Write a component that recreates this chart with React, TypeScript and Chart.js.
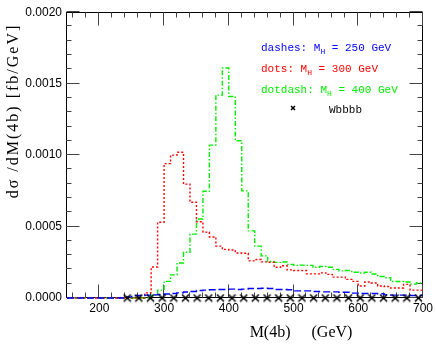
import React, { useEffect, useRef } from "react";
import { Chart, registerables } from "chart.js";

Chart.register(...registerables);

// ---- data ----
const BIN_LO = [
  150, 160, 170, 180, 190, 200, 210, 220, 230, 240,
  250, 260, 270, 280, 290, 300, 310, 320, 330, 340,
  350, 360, 370, 380, 390, 400, 410, 420, 430, 440,
  450, 460, 470, 480, 490, 500, 510, 520, 530, 540,
  550, 560, 570, 580, 590, 600, 610, 620, 630, 640,
  650, 660, 670, 680, 690,
];
const BIN_END = 700;

// M_H = 250 GeV (dashes)
const H250 = [
  0, 0, 0, 0, 0, 0, 0, 0, 0,
  0.000008, 0.000016, 0.000018, 0.00002, 0.000022, 0.000024,
  0.000028, 0.000032, 0.000036, 0.000042, 0.000046, 0.000052, 0.000055, 0.000058, 0.00006, 0.00006,
  0.000062, 0.00006, 0.000062, 0.000066, 0.000066, 0.000068, 0.000066, 0.00006, 0.00006, 0.000058,
  0.00005, 0.00005, 0.00005, 0.000046, 0.000043, 0.000043, 0.000043, 0.00004, 0.00004, 0.000034,
  0.000032, 0.000032, 0.000032, 0.00003, 0.000022, 0.00002, 0.00002, 0.00002, 0.000018, 0.000018,
];

// M_H = 300 GeV (dots)
const H300 = [
  0, 0, 0, 0, 0, 0, 0, 0, 0, 0, 0, 0,
  0.000036, 0.000217, 0.00053,
  0.00094, 0.001, 0.00102, 0.000797, 0.00067, 0.000534, 0.000461, 0.000427, 0.000363, 0.00034,
  0.000336, 0.000315, 0.000313, 0.00026, 0.000269, 0.000253, 0.00025, 0.000215, 0.000226, 0.000197,
  0.000192, 0.000192, 0.000169, 0.000169, 0.000176, 0.000165, 0.000146, 0.000146, 0.00013, 0.000116,
  0.000084, 0.000112, 0.000105, 0.000084, 0.00008, 0.00007, 0.00007, 0.000095, 0.000055, 0.000055,
];

// M_H = 400 GeV (dotdash)
const H400 = [
  0, 0, 0, 0, 0, 0, 0, 0, 0, 0, 0, 0, 0,
  0.00002, 0.000055,
  0.000116, 0.000162, 0.000245, 0.00032, 0.000447, 0.000553, 0.000747, 0.00107, 0.00142, 0.00161,
  0.00141, 0.0011, 0.00075, 0.00047, 0.000363, 0.000295, 0.000256, 0.000249, 0.000252, 0.000235,
  0.000228, 0.00023, 0.000228, 0.000215, 0.00022, 0.000215, 0.0002, 0.00019, 0.000192, 0.00018,
  0.000175, 0.00018, 0.000168, 0.00015, 0.000142, 0.000115, 0.000115, 0.000112, 0.000097, 0.000105,
];

// Wbbbb background (markers)
const WBBBB_X = [
  243, 261, 279, 297, 315, 333, 351, 369, 387, 405, 423, 441, 459,
  477, 495, 513, 531, 549, 567, 585, 603, 621, 639, 657, 675, 693,
];
const WBBBB_Y = [
  0, 0, 0, 0, 0, 0, 0, 0, 0, 0, 0, 0, 0,
  0, 0, 0, 0, 0, 0, 0, 0, 0, 0, 0, 0, 0,
];

const X_MAJOR = [200, 300, 400, 500, 600, 700];
const X_MINOR = [
  160, 180, 220, 240, 260, 280, 320, 340, 360, 380, 420, 440, 460, 480,
  520, 540, 560, 580, 620, 640, 660, 680,
];
const Y_MAJOR = [0, 0.0005, 0.001, 0.0015, 0.002];
const Y_MINOR = [
  0.0001, 0.0002, 0.0003, 0.0004, 0.0006, 0.0007, 0.0008, 0.0009,
  0.0011, 0.0012, 0.0013, 0.0014, 0.0016, 0.0017, 0.0018, 0.0019,
];

const X_TITLE = "M(4b) (GeV)";
const Y_TITLE = "dσ /dM(4b) [fb/GeV]";

const LEGEND = [
  { pre: "dashes: M", sub: "H", post: " = 250 GeV", color: "#0000ff" },
  { pre: "dots: M", sub: "H", post: " = 300 GeV", color: "#ff0000" },
  { pre: "dotdash: M", sub: "H", post: " = 400 GeV", color: "#00ee00" },
];
const BKG_LABEL = "Wbbbb";

function hist(vals: number[]) {
  const pts = BIN_LO.map((x, i) => ({ x, y: vals[i] }));
  pts.push({ x: BIN_END, y: vals[vals.length - 1] });
  return pts;
}

function makeMarker(size: number) {
  const c = document.createElement("canvas");
  c.width = size;
  c.height = size;
  const g = c.getContext("2d")!;
  g.strokeStyle = "#000";
  g.lineWidth = 1.5;
  g.beginPath();
  g.moveTo(1, 1);
  g.lineTo(size - 1, size - 1);
  g.moveTo(size - 1, 1);
  g.lineTo(1, size - 1);
  g.stroke();
  g.fillStyle = "#000";
  const s = Math.max(2, Math.round(size / 3));
  g.fillRect((size - s) / 2, (size - s) / 2, s, s);
  return c;
}

export default function App() {
  const ref = useRef<HTMLCanvasElement | null>(null);

  useEffect(() => {
    document.body.style.margin = "0";
    const canvas = ref.current!;
    const marker = makeMarker(9);
    const smallMarker = makeMarker(6);

    const decor = {
      id: "decor",
      beforeDatasetsDraw(chart: any) {
        const { ctx, chartArea: a, scales } = chart;
        const xs = scales.x;
        const ys = scales.y;
        ctx.save();
        ctx.strokeStyle = "#000";
        ctx.lineWidth = 1;
        const L = Math.round(a.left) - 0.5;
        const R = Math.round(a.right) - 0.5;
        const T = Math.round(a.top) + 0.5;
        const B = Math.round(a.bottom) - 0.5;
        ctx.strokeRect(L, T, R - L, B - T);
        ctx.strokeStyle = "#444";
        ctx.beginPath();
        const xt = (v: number, len: number) => {
          const p = Math.round(xs.getPixelForValue(v)) - 0.5;
          ctx.moveTo(p, B);
          ctx.lineTo(p, B - len);
          ctx.moveTo(p, T);
          ctx.lineTo(p, T + len);
        };
        const yt = (v: number, len: number) => {
          const p = Math.round(ys.getPixelForValue(v)) - 0.5;
          ctx.moveTo(L, p);
          ctx.lineTo(L + len, p);
          ctx.moveTo(R, p);
          ctx.lineTo(R - len, p);
        };
        X_MAJOR.forEach((v) => xt(v, 13));
        X_MINOR.forEach((v) => xt(v, 5));
        Y_MAJOR.forEach((v) => yt(v, 13));
        Y_MINOR.forEach((v) => yt(v, 5));
        ctx.stroke();
        ctx.restore();
      },
      afterDraw(chart: any) {
        const { ctx } = chart;
        ctx.save();
        ctx.fillStyle = "#000";
        // x title
        ctx.font = "16px 'Liberation Serif'";
        ctx.textAlign = "center";
        ctx.textBaseline = "alphabetic";
        (ctx as any).wordSpacing = "17px";
        ctx.fillText(X_TITLE, 301, 337);
        (ctx as any).wordSpacing = "0px";
        // y title
        (ctx as any).letterSpacing = "2px";
        ctx.save();
        ctx.translate(18, 111);
        ctx.rotate(-Math.PI / 2);
        ctx.fillText(Y_TITLE, 0, 0);
        ctx.restore();
        (ctx as any).letterSpacing = "0px";
        // legend
        ctx.textAlign = "left";
        const x0 = 261;
        let y0 = 51;
        LEGEND.forEach((l) => {
          ctx.fillStyle = l.color;
          ctx.font = "11px 'Liberation Mono'";
          ctx.fillText(l.pre, x0, y0);
          let x = x0 + ctx.measureText(l.pre).width;
          ctx.font = "8px 'Liberation Mono'";
          ctx.fillText(l.sub, x, y0 + 3);
          x += ctx.measureText(l.sub).width;
          ctx.font = "11px 'Liberation Mono'";
          ctx.fillText(l.post, x, y0);
          y0 += 21;
        });
        ctx.fillStyle = "#000";
        ctx.font = "11px 'Liberation Mono'";
        ctx.fillText(BKG_LABEL, 329, 113);
        ctx.drawImage(smallMarker, 290, 105, 6, 6);
        ctx.restore();
      },
    };

    const chart = new Chart(canvas, {
      type: "line",
      data: {
        datasets: [
          {
            type: "scatter",
            label: BKG_LABEL,
            data: WBBBB_X.map((x, i) => ({ x, y: WBBBB_Y[i] })),
            pointStyle: marker as any,
            pointRadius: 4,
            showLine: false,
            clip: false as any,
          },
          {
            label: "MH=250",
            data: hist(H250),
            stepped: "before",
            borderColor: "#0000ff",
            borderWidth: 1.4,
            borderDash: [7, 3],
            pointRadius: 0,
            fill: false,
            clip: false as any,
          },
          {
            label: "MH=300",
            data: hist(H300),
            stepped: "before",
            borderColor: "#ff0000",
            borderWidth: 1.4,
            borderDash: [2, 2],
            pointRadius: 0,
            fill: false,
            clip: false as any,
          },
          {
            label: "MH=400",
            data: hist(H400),
            stepped: "before",
            borderColor: "#00ee00",
            borderWidth: 1.4,
            borderDash: [5, 2, 1.5, 2],
            pointRadius: 0,
            fill: false,
            clip: false as any,
          },
        ],
      },
      options: {
        responsive: false,
        animation: false,
        devicePixelRatio: 1,
        layout: { padding: { left: 0, top: 6, right: 12, bottom: 0 }, autoPadding: false } as any,
        plugins: { legend: { display: false }, tooltip: { enabled: false } },
        scales: {
          x: {
            type: "linear",
            min: 150,
            max: 700,
            grid: { display: false, drawTicks: false },
            border: { display: false },
            afterBuildTicks: (s: any) => {
              s.ticks = X_MAJOR.map((v) => ({ value: v }));
            },
            afterFit: (s: any) => {
              s.height = 47;
            },
            ticks: {
              padding: 3,
              color: "#000",
              font: { family: "'Liberation Sans'", size: 12 },
              maxRotation: 0,
              autoSkip: false,
            },
          },
          y: {
            type: "linear",
            min: 0,
            max: 0.002,
            grid: { display: false, drawTicks: false },
            border: { display: false },
            afterBuildTicks: (s: any) => {
              s.ticks = Y_MAJOR.map((v) => ({ value: v }));
            },
            afterFit: (s: any) => {
              s.width = 67;
            },
            ticks: {
              padding: 5,
              color: "#000",
              font: { family: "'Liberation Sans'", size: 12 },
              callback: (v: any) => Number(v).toFixed(4),
            },
          },
        },
      },
      plugins: [decor],
    });
    return () => chart.destroy();
  }, []);

  return (
    <div style={{ width: 436, height: 345, background: "#fff" }}>
      <canvas ref={ref} width={436} height={345} style={{ display: "block" }} />
    </div>
  );
}
